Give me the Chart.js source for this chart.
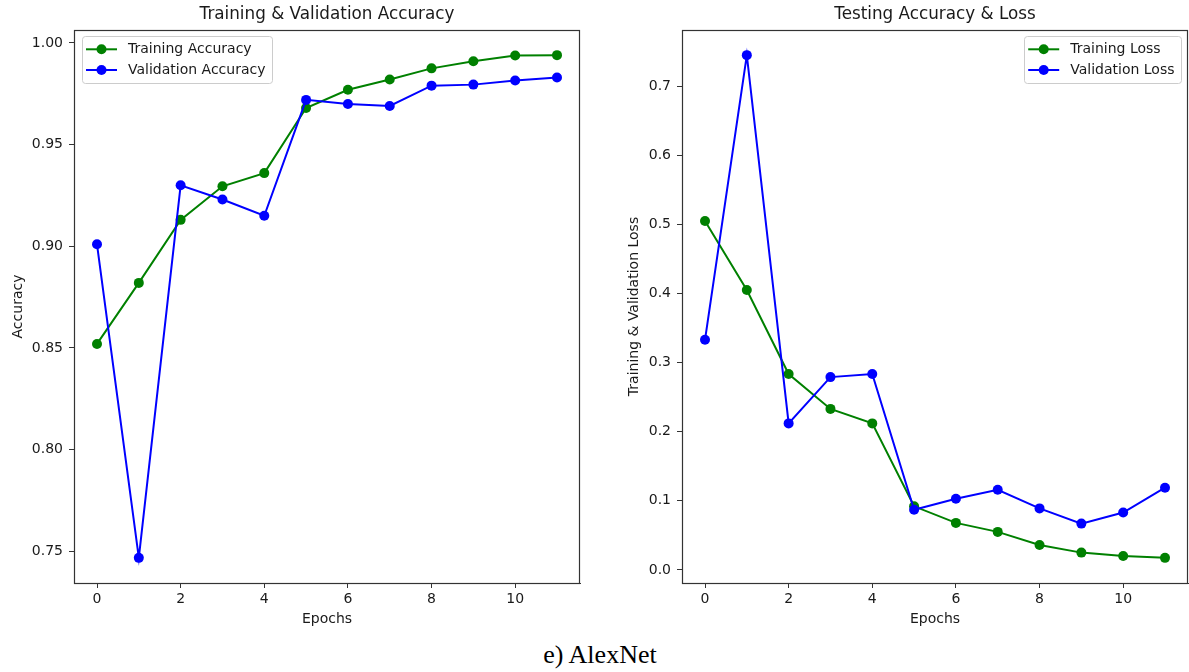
<!DOCTYPE html>
<html>
<head>
<meta charset="utf-8">
<title>AlexNet training curves</title>
<script src="https://cdn.jsdelivr.net/npm/chart.js@4.4.1/dist/chart.umd.min.js"></script>
<style>
  html, body { margin: 0; padding: 0; background: #ffffff; overflow: hidden; }
  #wrap { position: relative; width: 1189px; height: 672px; overflow: hidden; }
  canvas { position: absolute; top: 0; }
  #accChart { left: 0; }
  #lossChart { left: 600px; }
  #caption {
    position: absolute; left: 0; top: 642px; width: 1200px;
    text-align: center; font-family: "Liberation Serif", "Times New Roman", serif;
    font-size: 26px; line-height: 26px; color: #000;
  }
</style>
</head>
<body>
<div id="wrap">
  <canvas id="accChart" width="600" height="640"></canvas>
  <canvas id="lossChart" width="593" height="640"></canvas>
  <div id="caption">e) AlexNet</div>
</div>
<script>
// Epoch indices
const epochs = [0, 1, 2, 3, 4, 5, 6, 7, 8, 9, 10, 11];

// Accuracy per epoch
const trainAcc = [0.852, 0.882, 0.913, 0.9295, 0.936, 0.968, 0.977, 0.982, 0.9875, 0.991, 0.9938, 0.994];
const valAcc   = [0.901, 0.7468, 0.930, 0.923, 0.915, 0.972, 0.970, 0.969, 0.979, 0.9795, 0.9815, 0.983];

// Loss per epoch
const trainLoss = [0.505, 0.405, 0.2835, 0.233, 0.212, 0.092, 0.068, 0.055, 0.036, 0.025, 0.020, 0.0174];
const valLoss   = [0.333, 0.745, 0.212, 0.279, 0.2835, 0.087, 0.103, 0.116, 0.089, 0.067, 0.083, 0.119];

// Tick labels
const epochTicks = [0, 2, 4, 6, 8, 10];
const accTicks   = [0.75, 0.80, 0.85, 0.90, 0.95, 1.00];
const lossTicks  = [0.0, 0.1, 0.2, 0.3, 0.4, 0.5, 0.6, 0.7];

const GREEN = '#008000';
const BLUE = '#0000ff';
const TEXT = '#1a1a1a';
const FRAME = '#333333';
const FONT_SIZE = 14;
const TITLE_SIZE = 16.8;

Chart.defaults.font.family = '"DejaVu Sans", sans-serif';
Chart.defaults.color = TEXT;

// Axis range padded by 5% of the data span on both ends
function paddedRange(values) {
  const lo = Math.min(...values), hi = Math.max(...values);
  const m = (hi - lo) * 0.05;
  return { min: lo - m, max: hi + m };
}

function toPoints(ys) {
  return epochs.map((e, i) => ({ x: e, y: ys[i] }));
}

// Box around the whole plotting area
const frameBox = {
  id: 'frameBox',
  afterDatasetsDraw(chart) {
    const { ctx, chartArea: a } = chart;
    ctx.save();
    ctx.strokeStyle = FRAME;
    ctx.lineWidth = 1.2;
    ctx.strokeRect(Math.round(a.left) + 0.5, Math.round(a.top) + 0.5,
                   Math.round(a.right - a.left) - 1, Math.round(a.bottom - a.top));
    ctx.restore();
  }
};

// Legend drawn inside the plotting area with a line-and-marker key
const insetLegend = {
  id: 'insetLegend',
  afterDraw(chart, args, opts) {
    const { ctx, chartArea: a } = chart;
    const items = chart.data.datasets.map(d => ({ label: d.label, color: d.borderColor }));
    ctx.save();
    ctx.font = FONT_SIZE + 'px "DejaVu Sans"';
    const textW = Math.max(...items.map(it => ctx.measureText(it.label).width));
    const w = 46 + textW + 6.5;
    const h = 47;
    const x = opts.side === 'right' ? a.right - 7 - w : a.left + 8;
    const y = a.top + 6;
    ctx.beginPath();
    ctx.roundRect(Math.round(x) + 0.5, Math.round(y) + 0.5, Math.round(w), h, 3);
    ctx.fillStyle = 'rgba(255,255,255,0.8)';
    ctx.fill();
    ctx.strokeStyle = '#cccccc';
    ctx.lineWidth = 1;
    ctx.stroke();
    items.forEach((it, i) => {
      const cy = y + 13.3 + i * 20.7;
      ctx.strokeStyle = it.color;
      ctx.lineWidth = 2;
      ctx.beginPath();
      ctx.moveTo(x + 4, cy);
      ctx.lineTo(x + 35, cy);
      ctx.stroke();
      ctx.fillStyle = it.color;
      ctx.beginPath();
      ctx.arc(x + 19.5, cy, 5, 0, Math.PI * 2);
      ctx.fill();
      ctx.fillStyle = TEXT;
      ctx.textBaseline = 'middle';
      ctx.textAlign = 'left';
      ctx.fillText(it.label, x + 46, cy + 0.5);
    });
    ctx.restore();
  }
};

function lineDataset(label, values, color, order) {
  return {
    label,
    data: toPoints(values),
    borderColor: color,
    backgroundColor: color,
    borderWidth: 2,
    pointRadius: 5,
    pointHoverRadius: 5,
    pointBorderWidth: 0,
    pointBackgroundColor: color,
    tension: 0,
    fill: false,
    order
  };
}

function makeChart(canvasId, cfg) {
  const xr = paddedRange(epochs);
  const yr = paddedRange(cfg.series.flat());
  return new Chart(document.getElementById(canvasId), {
    type: 'line',
    data: {
      datasets: [
        lineDataset(cfg.labels[0], cfg.series[0], GREEN, 1),
        lineDataset(cfg.labels[1], cfg.series[1], BLUE, 0)
      ]
    },
    options: {
      responsive: false,
      animation: false,
      events: [],
      layout: { padding: { left: 0, top: 0, right: cfg.padRight, bottom: 0 } },
      plugins: {
        legend: { display: false },
        tooltip: { enabled: false },
        title: {
          display: true,
          text: cfg.title,
          fullSize: false,
          color: TEXT,
          font: { size: TITLE_SIZE, weight: 'normal' },
          padding: { top: 5, bottom: 30 - 5 - TITLE_SIZE * 1.2 }
        },
        insetLegend: { side: cfg.legendSide }
      },
      scales: {
        x: {
          type: 'linear',
          min: xr.min,
          max: xr.max,
          afterBuildTicks: s => { s.ticks = epochTicks.map(v => ({ value: v })); },
          afterFit: s => { s.height = 57; s.paddingLeft = 0; s.paddingRight = 0; },
          ticks: { font: { size: FONT_SIZE }, color: TEXT, padding: 3, maxRotation: 0 },
          grid: { display: true, drawOnChartArea: false, drawTicks: true, tickLength: 5, tickColor: FRAME, tickWidth: 1 },
          border: { display: true, color: FRAME, width: 1 },
          title: { display: true, text: 'Epochs', color: TEXT, font: { size: FONT_SIZE }, padding: { top: 0, bottom: 12.6 } }
        },
        y: {
          type: 'linear',
          min: yr.min,
          max: yr.max,
          afterBuildTicks: s => { s.ticks = cfg.yTicks.map(v => ({ value: v })); },
          afterFit: s => { s.width = cfg.yWidth; s.paddingTop = 0; s.paddingBottom = 0; },
          ticks: {
            font: { size: FONT_SIZE }, color: TEXT, padding: 6,
            callback: v => Number(v).toFixed(cfg.decimals)
          },
          grid: { display: true, drawOnChartArea: false, drawTicks: true, tickLength: 5, tickColor: FRAME, tickWidth: 1 },
          border: { display: true, color: FRAME, width: 1 },
          title: { display: true, text: cfg.yTitle, color: TEXT, font: { size: FONT_SIZE }, padding: { top: cfg.yTitlePad, bottom: 0 } }
        }
      }
    },
    plugins: [frameBox, insetLegend]
  });
}

makeChart('accChart', {
  title: 'Training & Validation Accuracy',
  labels: ['Training Accuracy', 'Validation Accuracy'],
  series: [trainAcc, valAcc],
  yTicks: accTicks,
  decimals: 2,
  yTitle: 'Accuracy',
  yWidth: 74,
  yTitlePad: 9.6,
  padRight: 20,
  legendSide: 'left'
});

makeChart('lossChart', {
  title: 'Testing Accuracy & Loss',
  labels: ['Training Loss', 'Validation Loss'],
  series: [trainLoss, valLoss],
  yTicks: lossTicks,
  decimals: 1,
  yTitle: 'Training & Validation Loss',
  yWidth: 82,
  yTitlePad: 25.6,
  padRight: 0,
  legendSide: 'right'
});
</script>
</body>
</html>
